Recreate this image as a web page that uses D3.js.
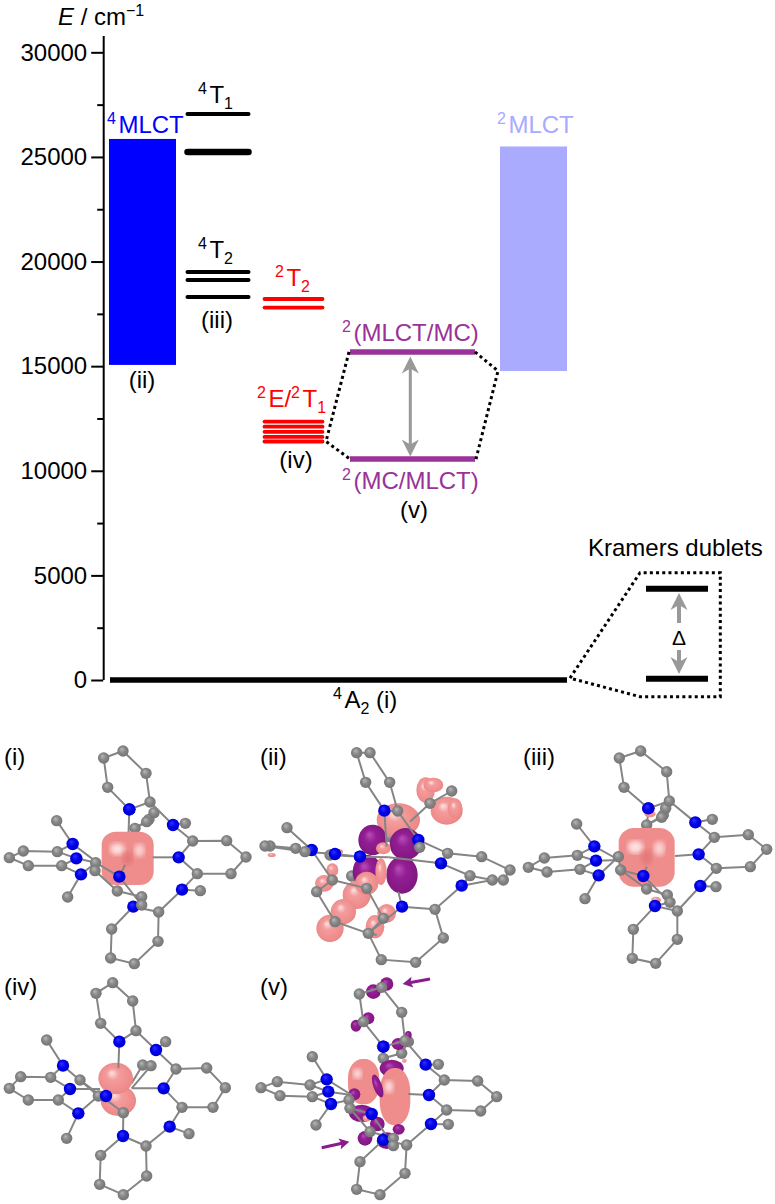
<!DOCTYPE html>
<html>
<head>
<meta charset="utf-8">
<script src="https://cdn.jsdelivr.net/npm/d3@7"></script>
<style>
body { margin: 0; background: #fff; }
text { font-family: "Liberation Sans", Arial, sans-serif; }
</style>
</head>
<body>
<div id="chart"></div>
<script>
// energy axis
const majorTicks = [0, 5000, 10000, 15000, 20000, 25000, 30000];
const minorTicks = [2500, 7500, 12500, 17500, 22500, 27500];

// levels, cm-1
const quartetT1 = [27050, 25240];
const quartetT2 = [19500, 19120, 18310];
const doubletT2 = [18210, 17800];
const doubletE = [12350, 12110, 11860, 11620, 11400];
const mixedUpper = 15680;
const mixedLower = 10560;
const bandQuartet = [15060, 25860];
const bandDoublet = [14770, 25500];

// molecule panels: chains of [x, y, kind], read off a 780 wide crop. kind 1 = N, -1 = bond end without atom
const iBack = [
  [[385,295,-1],[388,208,1]],
  [[405,265],[447,238],[462,218]],
  [[405,265],[440,245]],
];
const iFront = [
  [[369,33],[311,54],[323,142],[388,208,1],[450,186],[438,100],[369,33]],
  [[450,186],[519,255,1],[556,250]],
  [[519,255,1],[578,303],[680,302],[738,351],[693,401],[592,401],[536,352,1],[578,303]],
  [[458,352,-1],[536,352,1]],
  [[592,401],[546,449,1],[601,452]],
  [[546,449,1],[476,516],[474,604],[403,671],[332,654],[335,567],[400,500,1],[476,516]],
  [[170,242],[218,312,1],[172,335],[70,333],[28,353],[85,377],[185,377],[229,355,1],[172,335]],
  [[185,377],[243,403,1],[203,471]],
  [[218,312,1],[295,370,-1]],
  [[229,355,1],[295,370,-1]],
  [[243,403,1],[287,368]],
  [[287,368],[358,410,1],[375,375,-1]],
  [[285,392],[352,453],[425,470]],
  [[287,368],[285,392]],
  [[358,410,1],[425,495],[400,500,1]],
];
const iBlobs = [["s",383,355,78,80,0,"pink"]];

const iiBack = [
  [[450,265,1],[405,290]],
  [[290,408],[315,450,1]],
  [[315,350,1],[225,345]],
];
const iiFront = [
  [[388,212,1],[332,127],[305,38],[345,38],[404,127],[428,213],[388,212,1],[395,320,-1]],
  [[428,213],[490,300,1],[578,340],[680,350],[765,390],[745,420],[712,420],[645,407],[558,370,1],[578,340]],
  [[490,300,1],[494,322]],
  [[465,245,-1],[525,190],[590,153]],
  [[645,407],[620,437,1],[712,420]],
  [[620,437,1],[540,508],[565,594],[482,667],[379,659],[340,580],[441,500,1],[540,508]],
  [[441,500,1],[430,455,-1]],
  [[558,370,1],[400,352,-1]],
  [[96,263],[170,330,1],[122,325],[45,318],[30,318],[150,335],[240,342,1],[315,350,1],[400,352,-1]],
  [[170,330,1],[232,420],[185,455],[240,545],[340,580]],
  [[232,420],[335,445],[385,535],[340,580]],
  [[340,580],[365,585,-1]],
];
const iiBlobs = [
  ["e",430,240,65,50,0,"pink"],
  ["e",512,150,28,38,0,"pink"],["e",535,135,30,22,0,"pink"],["e",575,212,48,42,0,"pink"],["e",600,205,22,30,0,"pink"],
  ["e",353,300,43,46,0,"purple"],["e",452,312,48,48,0,"purple"],["e",337,395,44,50,0,"purple"],["e",441,405,47,56,0,"purple"],
  ["e",385,325,22,18,0,"pink"],["e",378,395,17,40,0,"pink"],
  ["e",305,465,42,42,0,"pink"],["e",265,515,38,38,0,"pink"],["e",225,565,41,41,0,"pink"],
  ["e",208,430,28,25,0,"pink"],["e",232,390,18,20,0,"pink"],["e",360,560,28,35,0,"pink"],["e",395,520,28,28,0,"pink"],["e",335,430,35,35,0,"pink"],
  ["e",50,345,12,6,0,"pink"],["e",250,335,14,8,0,"pink"],
];

const iiiBack = [
  [[395,270,-1],[400,205,1]],
  [[395,255],[445,225],[452,205]],
  [[395,255],[440,232]],
];
const iiiFront = [
  [[377,33],[313,54],[327,142],[400,205,1],[463,183],[455,95],[377,33]],
  [[463,183],[541,247,1],[592,238]],
  [[541,247,1],[598,292],[700,284],[755,328],[706,380],[604,385],[551,343,1],[598,292]],
  [[480,348,-1],[551,343,1]],
  [[604,385],[556,438,1],[603,440]],
  [[556,438,1],[487,513],[487,598],[422,670],[352,655],[355,568],[420,498,1],[487,513]],
  [[185,252],[238,319,1],[187,346],[88,354],[40,382],[96,396],[195,388],[243,362,1],[187,346]],
  [[195,388],[251,406,1],[210,476]],
  [[238,319,1],[312,360,-1]],
  [[243,362,1],[312,360,-1]],
  [[251,406,1],[310,350]],
  [[310,350],[317,390],[385,408,1],[395,380,-1]],
  [[317,390],[395,447],[457,465]],
  [[385,408,1],[465,487],[420,498,1]],
];
const iiiBlobs = [["s",395,352,84,88,0,"pink"],["e",405,222,17,10,0,"pink"],["e",423,480,15,10,0,"pink"]];

const ivBack = [
  [[428,285],[453,287],[395,355,-1]],
  [[428,285],[395,340,-1]],
];
const ivFront = [
  [[338,38],[288,70],[302,160],[358,215,1],[408,182],[398,93],[338,38]],
  [[358,215,1],[355,295,-1]],
  [[408,182],[468,240,1],[497,215]],
  [[468,240,1],[528,297],[620,294],[676,353],[639,412],[546,412],[491,355,1],[528,297]],
  [[395,355,-1],[491,355,1]],
  [[546,412],[509,470,1],[567,491]],
  [[509,470,1],[438,528],[440,618],[370,674],[299,643],[302,556],[369,498,1],[438,528]],
  [[140,210],[189,287,1],[152,322],[62,320],[28,355],[85,390],[175,390],[210,357,1],[152,322]],
  [[175,390],[235,430,1],[200,505]],
  [[189,287,1],[295,378]],
  [[210,357,1],[300,357,-1]],
  [[235,430,1],[295,378],[318,378,1]],
  [[240,330],[370,428],[369,498,1]],
];
const ivBlobs = [["e",355,392,53,46,0,"pink"],["e",347,325,52,47,0,"pink"]];

const vBack = [
  [[385,265],[440,250],[460,215]],
  [[385,230,1],[385,265]],
];
const vFront = [
  [[380,52],[313,72],[325,155],[385,230,1],[450,212],[440,127],[380,52]],
  [[450,212],[512,284,1],[550,283]],
  [[512,284,1],[568,330],[668,333],[725,380],[677,423],[575,420],[522,375,1],[568,330]],
  [[460,372,-1],[522,375,1]],
  [[575,420],[528,462,1],[580,463]],
  [[528,462,1],[455,525],[450,610],[375,674],[305,658],[315,575],[385,510,1],[455,525]],
  [[172,260],[215,328,1],[165,345],[67,335],[18,353],[75,377],[172,380],[220,365,1],[165,345]],
  [[172,380],[228,402,1],[183,465]],
  [[215,328,1],[290,375,-1]],
  [[220,365,1],[290,375,-1]],
  [[228,402,1],[282,390]],
  [[282,390],[285,415],[350,432,1]],
  [[285,415],[345,485],[415,505]],
  [[350,432,1],[415,527],[385,510,1]],
];
const vBlobs = [
  ["e",410,295,36,26,0,"purple"],["e",320,430,38,26,0,"purple"],
  ["r",326,335,47,68,0,"pink"],["r",420,380,46,86,0,"pink"],
  ["e",368,348,13,36,-20,"purple"],
  ["e",395,42,20,20,0,"purple"],["e",355,65,22,22,0,"purple"],["e",340,145,18,18,0,"purple"],["e",303,167,16,18,0,"purple"],
  ["e",430,222,20,18,0,"purple"],["e",460,195,10,12,0,"purple"],["e",298,373,18,18,0,"purple"],
  ["e",367,462,22,22,0,"purple"],["e",431,478,18,16,0,"purple"],["e",330,505,22,22,0,"purple"],["e",395,512,30,25,0,"purple"],
  ["e",380,228,16,10,0,"pink"],["e",448,272,7,6,0,"pink"],["e",335,445,12,10,0,"pink"],
];

const panels = [
  {name:"(i)", x:0, y:740, back:iBack, blobs:iBlobs, front:iFront, labelX:12},
  {name:"(ii)", x:255, y:740, back:iiBack, blobs:iiBlobs, front:iiFront, labelX:15},
  {name:"(iii)", x:515, y:740, back:iiiBack, blobs:iiiBlobs, front:iiiFront, labelX:24},
  {name:"(iv)", x:0, y:970, back:ivBack, blobs:ivBlobs, front:ivFront, labelX:12},
  {name:"(v)", x:255, y:970, back:vBack, blobs:vBlobs, front:vFront, labelX:15},
];

const width = 775, height = 1204;
const purple = "#993399", gray = "#999999";

const svg = d3.select("#chart").append("svg")
  .attr("width", width).attr("height", height)
  .style("display", "block");

const defs = svg.append("defs");
function ballGradient(id, stops) {
  const g = defs.append("radialGradient").attr("id", id)
    .attr("cx", "50%").attr("cy", "50%").attr("r", "60%")
    .attr("fx", "38%").attr("fy", "32%");
  stops.forEach(s => g.append("stop").attr("offset", s[0]).attr("stop-color", s[1]));
}
ballGradient("cBall", [["0%","#b8b8b8"],["45%","#888888"],["100%","#6e6e6e"]]);
ballGradient("nBall", [["0%","#3030ff"],["50%","#0000ea"],["100%","#0000c0"]]);
ballGradient("pink", [["0%","#fde3e3"],["30%","#f49c9c"],["80%","#ee8a8a"],["100%","#de7676"]]);
ballGradient("purple", [["0%","#b84db8"],["35%","#941e94"],["100%","#7a157a"]]);
defs.append("filter").attr("id", "soft").append("feGaussianBlur").attr("stdDeviation", 2.5);

// energy axis
const y = d3.scaleLinear().domain([0, 30780]).range([680, 36]);
const axisX = 103.2;

svg.append("g").attr("transform", `translate(${axisX},0)`)
  .call(d3.axisLeft(y).tickValues(minorTicks).tickSize(6).tickFormat(""))
  .call(g => g.select(".domain").attr("d", `M0.5,${y.range()[0]}V${y.range()[1]}`))
  .call(g => g.selectAll("line,path").attr("stroke-width", 2).attr("stroke", "#000"));

svg.append("g").attr("transform", `translate(${axisX},0)`)
  .call(d3.axisLeft(y).tickValues(majorTicks).tickSize(12).tickPadding(4).tickFormat(d => d))
  .call(g => g.select(".domain").remove())
  .call(g => g.selectAll("line").attr("stroke-width", 2).attr("stroke", "#000"))
  .call(g => g.selectAll("text").attr("font-size", 24).attr("fill", "#000")
    .attr("font-family", '"Liberation Sans", Arial, sans-serif'));

// horizontal extents of the columns
const col = d3.scaleOrdinal()
  .domain(["mlct4", "t4", "red", "mix", "mlct2", "ground"])
  .range([[109, 176], [187.5, 248.5], [264.5, 322.5], [350, 475], [500, 567], [110, 567]]);

function band(vals, name, fill) {
  const [x0, x1] = col(name);
  svg.append("rect").attr("x", x0).attr("width", x1 - x0)
    .attr("y", y(vals[1])).attr("height", y(vals[0]) - y(vals[1]))
    .attr("fill", fill);
}
band(bandQuartet, "mlct4", "#0000ff");
band(bandDoublet, "mlct2", "#aaaaff");

function levels(vals, name, color, w, cap) {
  const [x0, x1] = col(name);
  svg.append("g").selectAll("line").data(vals).join("line")
    .attr("x1", x0).attr("x2", x1)
    .attr("y1", d => y(d)).attr("y2", d => y(d))
    .attr("stroke", color)
    .attr("stroke-width", (d, i) => Array.isArray(w) ? w[i] : w)
    .attr("stroke-linecap", cap);
}
levels(quartetT1, "t4", "#000", [4, 6.5], "round");
levels(quartetT2, "t4", "#000", 4, "round");
levels(doubletT2, "red", "#ff0000", 3.8, "round");
levels(doubletE, "red", "#ff0000", 3.8, "round");
levels([mixedUpper, mixedLower], "mix", purple, 5.5, "butt");
levels([0], "ground", "#000", 5.5, "butt");

// dotted connectors
const dotted = d3.line();
function dots(points) {
  svg.append("path").attr("d", dotted(points))
    .attr("fill", "none").attr("stroke", "#000")
    .attr("stroke-width", 3).attr("stroke-dasharray", "3 3.2");
}
dots([[349, y(mixedUpper)], [326, y(11400)], [350, y(mixedLower)]]);
dots([[475, y(mixedUpper)], [498, y(bandDoublet[0])], [476, y(mixedLower)]]);
dots([[570, y(90)], [640, 572.7], [720.3, 572.7], [720.3, 696.7], [640, 696.7], [570, y(90)]]);

// Kramers levels
svg.append("g").selectAll("line").data([588.7, 678.7]).join("line")
  .attr("x1", 646).attr("x2", 708)
  .attr("y1", d => d).attr("y2", d => d)
  .attr("stroke", "#000").attr("stroke-width", 6);

// grey arrows
function arrowHead(x, tip, dir, len, hw, color, target) {
  (target || svg).append("path")
    .attr("d", `M${x},${tip}L${x - hw},${tip + dir * len}L${x},${tip + dir * (len - 5)}L${x + hw},${tip + dir * len}Z`)
    .attr("fill", color);
}
function vArrowLine(x, y0, y1, w) {
  svg.append("line").attr("x1", x).attr("x2", x).attr("y1", y0).attr("y2", y1)
    .attr("stroke", gray).attr("stroke-width", w);
}
vArrowLine(410.3, 364, 449, 3);
arrowHead(410.3, 356.5, 1, 17, 8.5, gray);
arrowHead(410.3, 456.5, -1, 17, 8.5, gray);
vArrowLine(679, 605, 623, 4);
arrowHead(679, 593, 1, 17, 8.5, gray);
vArrowLine(679, 650, 662, 4);
arrowHead(679, 674, -1, 17, 8.5, gray);

// text with ^sup _sub *italic parts
function label(x, yy, parts, color, anchor, size) {
  const fs = size || 24;
  const t = svg.append("text").attr("x", x).attr("y", yy)
    .attr("fill", color || "#000").attr("font-size", fs)
    .attr("text-anchor", anchor || "start");
  let shift = 0, wasSup = false;
  parts.forEach(p => {
    const k = p[0];
    let want = 0, s = fs, txt = p;
    if (k === "^") { want = -9; s = 16; txt = p.slice(1); }
    else if (k === "_") { want = 6; s = 16; txt = p.slice(1); }
    else if (k === "*") { txt = p.slice(1); }
    const ts = t.append("tspan").attr("dy", want - shift).attr("font-size", s).text(txt);
    if (wasSup) ts.attr("dx", 2.5);
    if (k === "*") ts.attr("font-style", "italic");
    shift = want;
    wasSup = k === "^";
  });
}
label(58, 25, ["*E", " / cm", "^\u22121"]);
label(107, 133, ["^4", "MLCT"], "#0000ff");
label(497, 133, ["^2", "MLCT"], "#aaaaff");
label(198, 103, ["^4", "T", "_1"]);
label(198, 258, ["^4", "T", "_2"]);
label(217, 328, ["(iii)"], "#000", "middle");
label(142, 388, ["(ii)"], "#000", "middle");
label(275, 286, ["^2", "T", "_2"], "#ff0000");
label(257, 407, ["^2", "E/", "^2", "T", "_1"], "#ff0000");
label(296, 468, ["(iv)"], "#000", "middle");
label(342, 341, ["^2", "(MLCT/MC)"], purple);
label(342, 489, ["^2", "(MC/MLCT)"], purple);
label(414, 518, ["(v)"], "#000", "middle");
label(333, 708, ["^4", "A", "_2", " (i)"]);
label(588, 556, ["Kramers dublets"]);
label(679, 645, ["\u0394"], "#000", "middle", 21);

// molecules
const zoomX = d3.scaleLinear().domain([0, 780]).range([0, 260]);
const zoomY = d3.scaleLinear().domain([0, 780]).range([0, 260]);

function drawChains(g, chains) {
  const line = d3.line().x(d => zoomX(d[0])).y(d => zoomY(d[1]));
  g.append("g").selectAll("path").data(chains).join("path")
    .attr("d", line).attr("fill", "none")
    .attr("stroke", "#858585").attr("stroke-width", 2);
  const atoms = d3.rollups(chains.flat().filter(a => a[2] !== -1), v => v[0], a => a[0] + "," + a[1])
    .map(d => d[1]);
  g.append("g").selectAll("circle").data(atoms).join("circle")
    .attr("cx", d => zoomX(d[0])).attr("cy", d => zoomY(d[1]))
    .attr("r", d => d[2] === 1 ? 6.2 : 5.7)
    .attr("fill", d => d[2] === 1 ? "url(#nBall)" : "url(#cBall)");
}

function drawBlobs(g, blobs) {
  blobs.forEach(b => {
    const [kind, cx, cy, rx, ry, rot, color] = b;
    if (kind === "s" || kind === "r") {
      const corner = kind === "s" ? 0.55 : 0.92;
      g.append("rect")
        .attr("x", zoomX(cx - rx)).attr("y", zoomY(cy - ry))
        .attr("width", zoomX(2 * rx)).attr("height", zoomY(2 * ry))
        .attr("rx", zoomX(rx * corner)).attr("ry", zoomY(ry * corner * 0.9))
        .attr("fill", "#ef8c8c");
      // soft shine on the lobe
      g.append("ellipse")
        .attr("cx", zoomX(cx - rx * 0.4)).attr("cy", zoomY(cy - ry * 0.35))
        .attr("rx", zoomX(rx * 0.28)).attr("ry", zoomY(ry * 0.22))
        .attr("fill", "#fde0e0").attr("filter", "url(#soft)");
      if (kind === "s") {
        g.append("ellipse")
          .attr("cx", zoomX(cx + rx * 0.45)).attr("cy", zoomY(cy - ry * 0.3))
          .attr("rx", zoomX(rx * 0.2)).attr("ry", zoomY(ry * 0.25))
          .attr("fill", "#fbd0d0").attr("filter", "url(#soft)");
        // dimple in the middle of the cube shaped lobe
        g.append("ellipse")
          .attr("cx", zoomX(cx)).attr("cy", zoomY(cy))
          .attr("rx", zoomX(rx * 0.2)).attr("ry", zoomY(ry * 0.25))
          .attr("fill", "#e07070").attr("opacity", 0.7).attr("filter", "url(#soft)");
      }
    } else {
      g.append("ellipse")
        .attr("cx", zoomX(cx)).attr("cy", zoomY(cy))
        .attr("rx", zoomX(rx)).attr("ry", zoomY(ry))
        .attr("transform", `rotate(${rot},${zoomX(cx)},${zoomY(cy)})`)
        .attr("fill", "url(#" + color + ")");
    }
  });
}

panels.forEach(p => {
  const g = svg.append("g").attr("transform", `translate(${p.x},${p.y})`);
  drawChains(g, p.back);
  drawBlobs(g, p.blobs);
  drawChains(g, p.front);
  g.append("text").attr("x", zoomX(p.labelX)).attr("y", zoomY(75))
    .attr("font-size", 24).attr("fill", "#000").text(p.name);
});

// purple arrows of panel v
const vPanel = svg.append("g").attr("transform", "translate(255,970)");
const arrowsV = [[[525,27],[443,42]], [[200,533],[283,515]]];
arrowsV.forEach(a => {
  const ang = Math.atan2(a[1][1] - a[0][1], a[1][0] - a[0][0]) * 180 / Math.PI;
  vPanel.append("line")
    .attr("x1", zoomX(a[0][0])).attr("y1", zoomY(a[0][1]))
    .attr("x2", zoomX(a[1][0]) - 4 * Math.cos(ang * Math.PI / 180))
    .attr("y2", zoomY(a[1][1]) - 4 * Math.sin(ang * Math.PI / 180))
    .attr("stroke", "#8b1a8b").attr("stroke-width", 3);
  vPanel.append("path").attr("d", "M0,0L-10,-5.5L-8,0L-10,5.5Z")
    .attr("transform", `translate(${zoomX(a[1][0])},${zoomY(a[1][1])}) rotate(${ang})`)
    .attr("fill", "#8b1a8b");
});
</script>
</body>
</html>
